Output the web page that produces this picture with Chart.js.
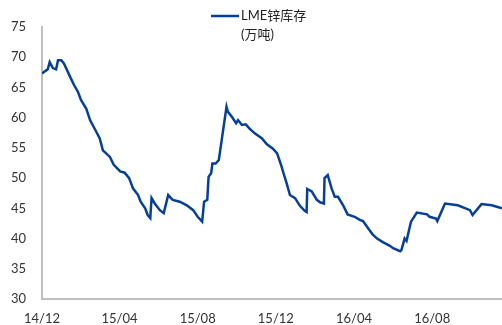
<!DOCTYPE html>
<html>
<head>
<meta charset="utf-8">
<script src="https://cdn.jsdelivr.net/npm/chart.js@4/dist/chart.umd.min.js"></script>
<style>
  html, body { margin: 0; padding: 0; background: #fff; }
  #wrap { width: 502px; height: 325px; position: relative; }
</style>
</head>
<body>
<div id="wrap"><canvas id="chart"></canvas></div>
<script>
// LME zinc stocks
const dates = [
  "2014-12-01", "2014-12-06", "2014-12-10", "2014-12-13", "2014-12-18", "2014-12-23", "2014-12-26", "2014-12-31",
  "2015-01-04", "2015-01-09", "2015-01-15", "2015-01-20", "2015-01-26", "2015-01-31", "2015-02-08", "2015-02-14",
  "2015-02-22", "2015-03-01", "2015-03-06", "2015-03-17", "2015-03-23", "2015-04-02", "2015-04-09", "2015-04-16",
  "2015-04-22", "2015-04-30", "2015-05-04", "2015-05-11", "2015-05-15", "2015-05-19", "2015-05-21", "2015-05-26",
  "2015-06-03", "2015-06-09", "2015-06-16", "2015-06-23", "2015-07-04", "2015-07-15", "2015-07-25", "2015-08-01",
  "2015-08-08", "2015-08-11", "2015-08-16", "2015-08-18", "2015-08-22", "2015-08-24", "2015-08-29", "2015-09-03",
  "2015-09-06", "2015-09-09", "2015-09-15", "2015-09-17", "2015-09-23", "2015-09-30", "2015-10-03", "2015-10-09",
  "2015-10-15", "2015-10-21", "2015-10-29", "2015-11-09", "2015-11-17", "2015-11-26", "2015-12-03", "2015-12-10",
  "2015-12-13", "2015-12-18", "2015-12-23", "2015-12-31", "2016-01-07", "2016-01-15", "2016-01-18", "2016-01-19",
  "2016-01-26", "2016-02-03", "2016-02-08", "2016-02-14", "2016-02-15", "2016-02-20", "2016-02-26", "2016-03-02",
  "2016-03-07", "2016-03-15", "2016-03-22", "2016-04-02", "2016-04-10", "2016-04-15", "2016-04-23", "2016-04-30",
  "2016-05-07", "2016-05-16", "2016-05-27", "2016-06-01", "2016-06-12", "2016-06-14", "2016-06-19", "2016-06-22",
  "2016-06-27", "2016-06-29", "2016-07-08", "2016-07-24", "2016-07-28", "2016-08-07", "2016-08-09", "2016-08-21",
  "2016-09-10", "2016-09-29", "2016-10-03", "2016-10-17", "2016-11-02", "2016-11-18"
];
const stocks = [
  67.3, 67.7, 68.0, 69.2, 68.2, 68.0, 69.5, 69.5,
  69.0, 67.9, 66.5, 65.4, 64.3, 62.9, 61.5, 59.6,
  58.0, 56.6, 54.6, 53.5, 52.2, 51.1, 50.9, 50.0,
  48.3, 47.2, 46.1, 45.0, 43.9, 43.4, 46.7, 45.8,
  44.7, 44.2, 47.2, 46.4, 46.1, 45.5, 44.7, 43.6,
  42.8, 46.1, 46.4, 50.2, 50.8, 52.4, 52.4, 53.0,
  55.2, 57.4, 61.8, 61.0, 60.2, 59.1, 59.6, 58.8,
  58.9, 58.2, 57.4, 56.6, 55.6, 54.9, 54.1, 51.9,
  50.8, 49.1, 47.2, 46.7, 45.5, 44.6, 44.4, 48.2,
  47.8, 46.4, 46.0, 45.8, 50.0, 50.5, 48.3, 46.9,
  46.9, 45.5, 44.0, 43.6, 43.1, 42.9, 41.7, 40.7,
  40.0, 39.4, 38.8, 38.4, 37.9, 38.1, 40.0, 39.6,
  41.9, 42.8, 44.3, 44.0, 43.6, 43.3, 42.9, 45.8,
  45.5, 44.7, 43.9, 45.7, 45.5, 45.0, 44.6, 44.6
];
const tickDates = ["2014-12-01", "2015-04-01", "2015-08-01", "2015-12-01", "2016-04-01", "2016-08-01"];
const tickLabels = ["14/12", "15/04", "15/08", "15/12", "16/04", "16/08"];
const legendLines = ["LME锌库存", "(万吨)"];
const yTicks = [30, 35, 40, 45, 50, 55, 60, 65, 70, 75];

const START = Date.UTC(2014, 11, 1);
const DAY = 86400000;
const toDay = (s) => (Date.parse(s + "T00:00:00Z") - START) / DAY;

const LINE_COLOUR = "#063f98";
const AXIS_COLOUR = "#bfbfbf";
const TEXT_COLOUR = "#333333";
const FONT = "Lato, 'Noto Sans CJK SC', sans-serif";

const tickDays = tickDates.map(toDay);
const points = dates.map((d, i) => ({ x: toDay(d), y: stocks[i] }));

// legend drawn by hand: the two-line label overlaps the plot top
const legendPlugin = {
  id: "legendDraw",
  afterDraw(chart) {
    const ctx = chart.ctx;
    ctx.save();
    ctx.strokeStyle = LINE_COLOUR;
    ctx.lineWidth = 2.5;
    ctx.beginPath();
    ctx.moveTo(211, 16);
    ctx.lineTo(239, 16);
    ctx.stroke();
    ctx.fillStyle = "#222";
    ctx.font = "13px " + FONT;
    ctx.textBaseline = "middle";
    legendLines.forEach((t, i) => ctx.fillText(t, 241, 16 + i * 19));
    ctx.restore();
  }
};

new Chart(document.getElementById("chart"), {
  type: "line",
  data: {
    datasets: [{
      label: legendLines.join(""),
      data: points,
      borderColor: LINE_COLOUR,
      borderWidth: 2.5,
      pointRadius: 0,
      tension: 0,
      fill: false,
    }],
  },
  options: {
    responsive: true,
    maintainAspectRatio: false,
    animation: false,
    layout: { padding: { top: 27, right: 0, left: 0, bottom: 0 } },
    plugins: { legend: { display: false }, tooltip: { enabled: false } },
    scales: {
      x: {
        type: "linear",
        min: 0,
        max: 718,
        grid: { display: false, drawTicks: false },
        border: { color: AXIS_COLOUR, width: 2 },
        afterBuildTicks: (scale) => { scale.ticks = tickDays.map((v) => ({ value: v })); },
        afterFit: (scale) => { scale.height = 26; },
        ticks: {
          autoSkip: false,
          maxRotation: 0,
          padding: 12,
          color: TEXT_COLOUR,
          font: { family: FONT, size: 13 },
          callback: (v) => { const i = tickDays.indexOf(v); return i >= 0 ? tickLabels[i] : ""; },
        },
      },
      y: {
        min: 30,
        max: 75,
        grid: { display: false, drawTicks: false },
        border: { color: AXIS_COLOUR, width: 2 },
        afterBuildTicks: (scale) => { scale.ticks = yTicks.map((v) => ({ value: v })); },
        afterFit: (scale) => { scale.width = 42; },
        ticks: {
          padding: 16,
          color: TEXT_COLOUR,
          font: { family: FONT, size: 13 },
        },
      },
    },
  },
  plugins: [legendPlugin],
});
</script>
</body>
</html>
